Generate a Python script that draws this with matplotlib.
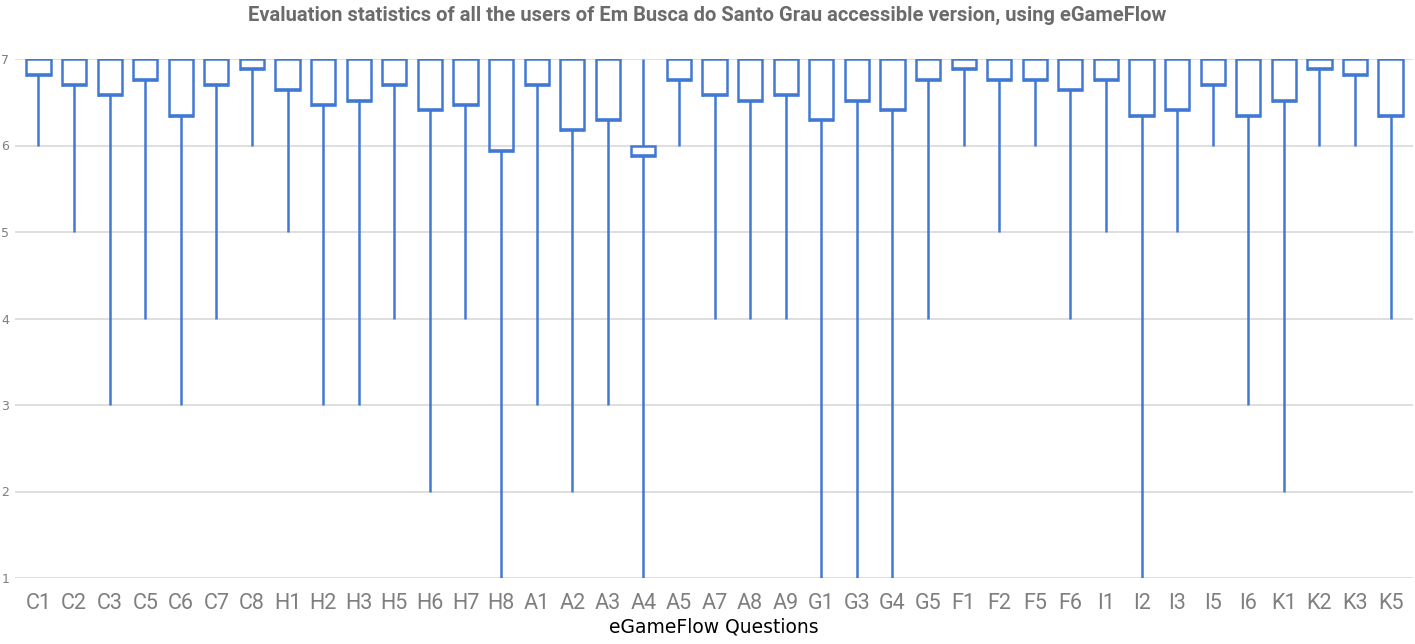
import numpy as np
import matplotlib
matplotlib.use("Agg")
import matplotlib.pyplot as plt
from matplotlib import font_manager

questions = ["C1", "C2", "C3", "C5", "C6", "C7", "C8", "H1", "H2", "H3",
             "H5", "H6", "H7", "H8", "A1", "A2", "A3", "A4", "A5", "A7",
             "A8", "A9", "G1", "G3", "G4", "G5", "F1", "F2", "F5", "F6",
             "I1", "I2", "I3", "I5", "I6", "K1", "K2", "K3", "K5"]
# lower edge of box, upper edge of box, whisker min, whisker max
box_low = [6.82, 6.70, 6.58, 6.76, 6.34, 6.70, 6.88, 6.64, 6.47, 6.52,
           6.70, 6.41, 6.47, 5.94, 6.70, 6.18, 6.29, 5.88, 6.76, 6.58,
           6.52, 6.58, 6.29, 6.52, 6.41, 6.76, 6.88, 6.76, 6.76, 6.64,
           6.76, 6.34, 6.41, 6.70, 6.34, 6.52, 6.88, 6.82, 6.34]
box_high = [7, 7, 7, 7, 7, 7, 7, 7, 7, 7,
            7, 7, 7, 7, 7, 7, 7, 6.0, 7, 7,
            7, 7, 7, 7, 7, 7, 7, 7, 7, 7,
            7, 7, 7, 7, 7, 7, 7, 7, 7]
whisk_min = [6, 5, 3, 4, 3, 4, 6, 5, 3, 3,
             4, 2, 4, 1, 3, 2, 3, 1, 6, 4,
             4, 4, 1, 1, 1, 4, 6, 5, 6, 4,
             5, 1, 5, 6, 3, 2, 6, 6, 4]
whisk_max = [7] * len(questions)

avail = {f.name for f in font_manager.fontManager.ttflist}
narrow = [f for f in ["Liberation Sans Narrow", "Roboto", "DejaVu Sans"] if f in avail]

blue = "#4178d4"
fig = plt.figure(figsize=(14.15, 6.44), dpi=100)
ax = fig.add_axes([15 / 1415, 1 - 578 / 644, (1413 - 15) / 1415, (578 - 59) / 644])

x = np.arange(len(questions))
lo = np.array(box_low)
hi = np.array(box_high)
ax.vlines(x, whisk_min, lo, color=blue, lw=1.8, zorder=3)
ax.vlines(x, hi, whisk_max, color=blue, lw=1.8, zorder=3)
for xi, l, h in zip(x, lo, hi):
    ax.plot([xi - 0.34, xi - 0.34, xi + 0.34, xi + 0.34], [l, h, h, l],
            color=blue, lw=1.8, zorder=4, solid_joinstyle="miter")
    ax.plot([xi - 0.34, xi + 0.34], [l, l], color=blue, lw=2.6, zorder=4,
            solid_capstyle="butt")

ax.set_xlim(-0.66, len(questions) - 0.37)
ax.set_ylim(1, 7)
ax.set_yticks(range(1, 8))
ax.grid(axis="y", color="#d9d9d9", lw=1.2, zorder=0)
for s in ax.spines.values():
    s.set_visible(False)
ax.set_xticks(x)
ax.set_xticklabels(questions, fontsize=15.5, color="#7f7f7f", family=narrow)
ax.tick_params(axis="x", length=0, pad=11)
ax.tick_params(axis="y", length=0, pad=4, labelsize=9, labelcolor="#7f7f7f")

ax.set_xlabel("eGameFlow Questions", fontsize=13.5, color="black", labelpad=2)
fig.text(0.5, 1 - 15 / 644, "Evaluation statistics of all the users of Em Busca do Santo Grau accessible version, using eGameFlow",
         ha="center", va="center", fontsize=14.5, fontweight="bold", color="#6b6b6b", family=narrow)

fig.savefig("out.png", dpi=100)
